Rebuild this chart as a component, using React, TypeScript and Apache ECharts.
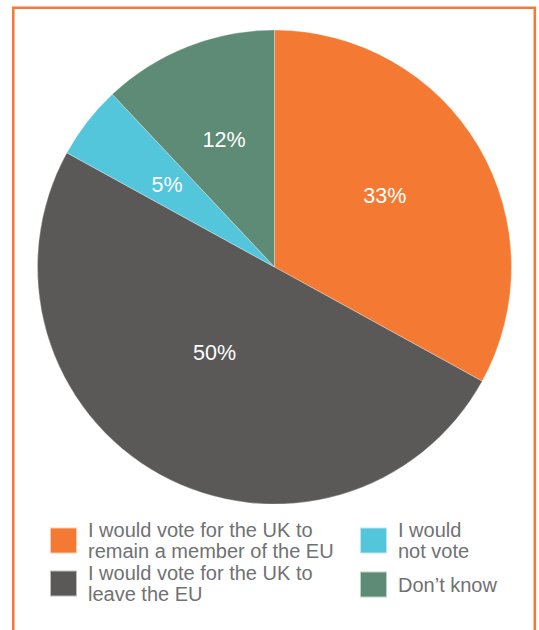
import React, { useEffect, useRef } from "react";
import * as echarts from "echarts";

const categories = [
  "I would vote for the UK to\nremain a member of the EU",
  "I would vote for the UK to\nleave the EU",
  "I would\nnot vote",
  "Don’t know",
];
const values = [33, 50, 5, 12];
const colors = ["#F47A33", "#5A5957", "#53C6DC", "#5E8B75"];

// label placement (style only): radius in px and angle shift in degrees
const labelRadius = [131, 105, 135, 137];
const labelAngleShift = [2, -6, 0.5, 0];

const CX = 274.5;
const CY = 267;
const R = 237;

export default function App() {
  const ref = useRef<HTMLDivElement>(null);
  useEffect(() => {
    if (!ref.current) return;
    const chart = echarts.init(ref.current, undefined, { renderer: "svg" });
    const total = values.reduce((a, b) => a + b, 0);
    const mids: number[] = [];
    let cum = 0;
    values.forEach((v) => {
      mids.push(90 - ((cum + v / 2) / total) * 360);
      cum += v;
    });
    const legendText = {
      fontFamily: "Liberation Sans, Arial, sans-serif",
      fontSize: 20,
      lineHeight: 20.5,
      color: "#707173",
      padding: [0, 0, 0, 6],
    };
    chart.setOption({
      animation: false,
      backgroundColor: "#ffffff",
      graphic: [
        {
          type: "rect",
          shape: { x: 13.3, y: 7.8, width: 521.5, height: 640 },
          style: { fill: "none", stroke: "#F47A33", lineWidth: 2.5 },
          silent: true,
        },
      ],
      legend: [
        {
          data: [categories[0], categories[1]],
          orient: "vertical",
          left: 49,
          top: 520,
          padding: 0,
          itemGap: 2,
          itemWidth: 27,
          itemHeight: 26,
          icon: "rect",
          selectedMode: false,
          textStyle: legendText,
        },
        {
          data: [categories[2], categories[3]],
          orient: "vertical",
          left: 359,
          top: 520,
          padding: 0,
          itemGap: 9.5,
          itemWidth: 27,
          itemHeight: 26,
          icon: "rect",
          selectedMode: false,
          textStyle: legendText,
        },
      ],
      series: [
        {
          type: "pie",
          center: [CX, CY],
          radius: R,
          startAngle: 90,
          clockwise: true,
          silent: true,
          itemStyle: { borderColor: "rgba(255,255,255,0.6)", borderWidth: 0.5 },
          label: {
            show: true,
            position: "inside",
            formatter: "{c}%",
            color: "#ffffff",
            fontFamily: "Liberation Sans, Arial, sans-serif",
            fontSize: 21.5,
          },
          labelLine: { show: false },
          labelLayout: (p: any) => {
            const i = p.dataIndex;
            const a = ((mids[i] + labelAngleShift[i]) * Math.PI) / 180;
            return {
              x: CX + labelRadius[i] * Math.cos(a),
              y: CY - labelRadius[i] * Math.sin(a),
              align: "center",
              verticalAlign: "middle",
            };
          },
          data: categories.map((name, i) => ({
            name,
            value: values[i],
            itemStyle: { color: colors[i] },
          })),
        },
      ],
    });
    return () => chart.dispose();
  }, []);
  return (
    <div
      ref={ref}
      style={{ position: "fixed", left: 0, top: 0, width: 539, height: 630 }}
    />
  );
}
